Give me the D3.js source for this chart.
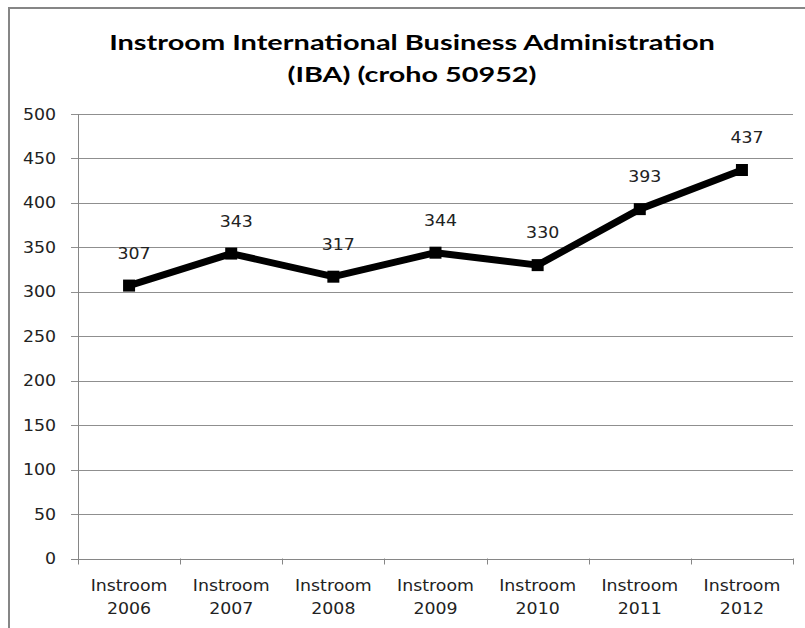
<!DOCTYPE html>
<html>
<head>
<meta charset="utf-8">
<script src="https://cdn.jsdelivr.net/npm/d3@7"></script>
<style>
  body { margin: 0; background: #fff; }
  svg { display: block; }
  .lbl { font-family: "DejaVu Sans", Verdana, sans-serif; font-size: 15.5px; fill: #222; }
  .title { font-family: Lato, "Open Sans", sans-serif; font-weight: bold; font-size: 21.5px; fill: #000; }
</style>
</head>
<body>
<div id="chart"></div>
<script>
// data
const categories = ["2006", "2007", "2008", "2009", "2010", "2011", "2012"];
const instroom = [307, 343, 317, 344, 330, 393, 437];
const yTicks = [0, 50, 100, 150, 200, 250, 300, 350, 400, 450, 500];
const titleLines = ["Instroom International Business Administration", "(IBA) (croho 50952)"];

const W = 805, H = 628;
const stretch = 1.12; // labels in the picture are a bit wider than the font

const svg = d3.select("#chart").append("svg")
    .attr("width", W)
    .attr("height", H);

// outer chart border (only top/left show in frame)
svg.append("rect")
    .attr("x", 9).attr("y", 8)
    .attr("width", 820).attr("height", 640)
    .attr("fill", "none")
    .attr("stroke", "#868686")
    .attr("stroke-width", 2);

const x = d3.scaleBand().domain(categories).range([78, 793]).padding(0);
const y = d3.scaleLinear().domain([0, 500]).range([558.5, 114]);

// stretched text helper
function stext(g, cls, tx, ty, str, anchor) {
    return g.append("text")
        .attr("class", cls)
        .attr("transform", `translate(${tx},${ty}) scale(${stretch},1)`)
        .attr("text-anchor", anchor || "middle")
        .text(str);
}

// gridlines
svg.append("g").selectAll("line")
    .data(yTicks)
    .enter().append("line")
    .attr("x1", 71).attr("x2", 793)
    .attr("y1", d => Math.round(y(d)) + 0.5)
    .attr("y2", d => Math.round(y(d)) + 0.5)
    .attr("stroke", d => d === 0 ? "#868686" : "#8f8f8f")
    .attr("stroke-width", 1);

// y axis line
svg.append("line")
    .attr("x1", 78.5).attr("x2", 78.5)
    .attr("y1", y(500)).attr("y2", y(0) + 6)
    .attr("stroke", "#868686");

// category ticks
const bounds = categories.map(c => x(c)).concat([x.range()[1]]);
svg.append("g").selectAll("line")
    .data(bounds.slice(1))
    .enter().append("line")
    .attr("x1", d => Math.round(d) + 0.5).attr("x2", d => Math.round(d) + 0.5)
    .attr("y1", y(0)).attr("y2", y(0) + 6)
    .attr("stroke", "#868686");

// y tick labels
const yl = svg.append("g");
yTicks.forEach(t => {
    stext(yl, "lbl", 56, y(t) + 5.5, t, "end");
});

// x labels
const xl = svg.append("g");
categories.forEach(c => {
    const cx = x(c) + x.bandwidth() / 2;
    stext(xl, "lbl", cx, 591, "Instroom");
    stext(xl, "lbl", cx, 614, c);
});

// line
const line = d3.line()
    .x((d, i) => x(categories[i]) + x.bandwidth() / 2)
    .y(d => y(d));

svg.append("path")
    .datum(instroom)
    .attr("d", line)
    .attr("fill", "none")
    .attr("stroke", "#000")
    .attr("stroke-width", 7)
    .attr("stroke-linejoin", "round");

// markers
svg.append("g").selectAll("rect")
    .data(instroom)
    .enter().append("rect")
    .attr("x", (d, i) => x(categories[i]) + x.bandwidth() / 2 - 6)
    .attr("y", d => y(d) - 6)
    .attr("width", 12).attr("height", 12)
    .attr("fill", "#000");

// value labels
const vl = svg.append("g");
instroom.forEach((v, i) => {
    stext(vl, "lbl", x(categories[i]) + x.bandwidth() / 2 + 5, y(v) - 27, v);
});

// title, scaled to its width in the picture
const titleWidths = [606, 249];
const titleBase = [49.5, 82];
titleLines.forEach((t, i) => {
    const el = svg.append("text")
        .attr("class", "title")
        .attr("text-anchor", "middle")
        .text(t);
    const w = el.node().getComputedTextLength();
    el.attr("transform", `translate(412,${titleBase[i]}) scale(${titleWidths[i] / w},1)`);
});
</script>
</body>
</html>
